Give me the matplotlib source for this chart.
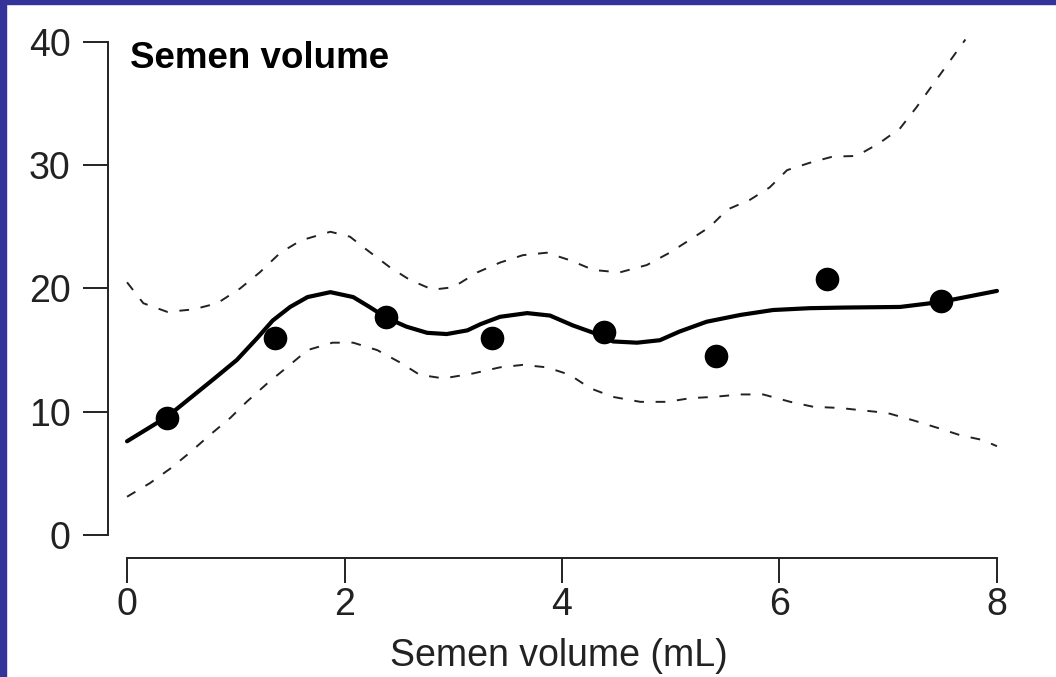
import matplotlib
matplotlib.use("Agg")
import matplotlib.pyplot as plt
from matplotlib.patches import Rectangle

plt.rcParams['font.family'] = ['Liberation Sans', 'DejaVu Sans']

# observed points
pt_x = [0.37, 1.36, 2.38, 3.36, 4.39, 5.42, 6.44, 7.49]
pt_y = [9.5, 16.0, 17.7, 16.0, 16.5, 14.5, 20.8, 19.0]

# fitted curve
fit_x = [0.0, 0.37, 0.58, 0.79, 1.01, 1.20, 1.34, 1.50, 1.66, 1.87, 2.08, 2.23,
         2.39, 2.57, 2.76, 2.94, 3.13, 3.25, 3.43, 3.68, 3.89, 4.10, 4.29, 4.47,
         4.69, 4.90, 5.08, 5.33, 5.64, 5.94, 6.28, 6.60, 7.11, 7.48, 8.0]
fit_y = [7.6, 9.6, 11.1, 12.6, 14.2, 16.0, 17.4, 18.5, 19.3, 19.7, 19.3, 18.5,
         17.6, 16.9, 16.4, 16.3, 16.6, 17.1, 17.7, 18.0, 17.8, 17.0, 16.4, 15.7,
         15.6, 15.8, 16.5, 17.3, 17.85, 18.25, 18.4, 18.45, 18.5, 18.9, 19.8]

# upper confidence band
up_x = [0.0, 0.15, 0.37, 0.61, 0.83, 1.04, 1.22, 1.41, 1.60, 1.87, 2.05, 2.21,
        2.42, 2.60, 2.81, 3.0, 3.22, 3.43, 3.64, 3.86, 4.07, 4.29, 4.53, 4.78,
        4.99, 5.15, 5.36, 5.52, 5.73, 5.91, 6.07, 6.28, 6.49, 6.71, 6.92, 7.11,
        7.26, 7.71]
up_y = [20.5, 18.8, 18.1, 18.3, 18.8, 20.0, 21.3, 22.9, 23.9, 24.6, 24.2, 23.1,
        21.7, 20.7, 19.9, 20.1, 21.3, 22.1, 22.7, 22.9, 22.3, 21.5, 21.3, 21.9,
        22.9, 23.8, 25.0, 26.4, 27.2, 28.2, 29.6, 30.2, 30.7, 30.75, 31.8, 33.0,
        34.7, 40.2]

# lower confidence band
lo_x = [0.0, 0.21, 0.40, 0.58, 0.76, 0.95, 1.10, 1.29, 1.47, 1.66, 1.89, 2.08,
        2.30, 2.51, 2.69, 2.91, 3.18, 3.43, 3.64, 3.86, 4.07, 4.26, 4.47, 4.72,
        4.97, 5.18, 5.39, 5.64, 5.85, 6.10, 6.31, 6.56, 6.77, 6.99, 7.23, 7.45,
        7.66, 7.87, 8.0]
lo_y = [3.1, 4.2, 5.4, 6.7, 8.1, 9.5, 10.8, 12.3, 13.6, 15.0, 15.6, 15.6,
        15.0, 14.0, 13.0, 12.7, 13.1, 13.6, 13.8, 13.6, 13.0, 11.9, 11.2, 10.8,
        10.8, 11.1, 11.2, 11.4, 11.4, 10.8, 10.4, 10.3, 10.1, 9.9, 9.3, 8.7,
        8.1, 7.7, 7.2]

xticks = [0, 2, 4, 6, 8]
yticks = [0, 10, 20, 30, 40]

fig = plt.figure(figsize=(10.56, 6.77), dpi=100)
fig.patch.set_facecolor('white')
# navy frame on left and top
fig.patches.append(Rectangle((0, 0), 6 / 1056, 1, transform=fig.transFigure,
                             color='#333399', zorder=0))
fig.patches.append(Rectangle((0, 1 - 4 / 677), 1, 4 / 677, transform=fig.transFigure,
                             color='#333399', zorder=0))

ax = fig.add_axes([108 / 1056, 119 / 677, 902 / 1056, 528 / 677])
ax.set_xlim(-0.175, 8.12)
ax.set_ylim(-1.87, 40.97)

ax.plot(fit_x, fit_y, color='black', lw=3, solid_capstyle='round',
        solid_joinstyle='round')
ax.plot(up_x, up_y, color='#222222', lw=1.4, linestyle=(0, (5, 6)))
ax.plot(lo_x, lo_y, color='#222222', lw=1.4, linestyle=(0, (5, 6)))
ax.plot(pt_x, pt_y, 'o', color='black', markersize=16)

for s in ['top', 'right']:
    ax.spines[s].set_visible(False)
ax.spines['left'].set_bounds(0, 40)
ax.spines['bottom'].set_bounds(0, 8)
for s in ['left', 'bottom']:
    ax.spines[s].set_linewidth(1.4)
    ax.spines[s].set_color('#222222')

ax.set_xticks(xticks)
ax.set_yticks(yticks)
ax.tick_params(axis='both', direction='out', length=18, width=1.4,
               labelsize=27, color='#222222', labelcolor='#222222')
ax.tick_params(axis='y', pad=9)
ax.tick_params(axis='x', pad=3)

ax.set_xlabel("Semen volume (mL)", fontsize=27, color='#222222', labelpad=11)
ax.text(0.03, 37.9, "Semen volume", fontsize=26.5, fontweight='bold',
        va='baseline', ha='left')

fig.savefig("out.png", dpi=100)
